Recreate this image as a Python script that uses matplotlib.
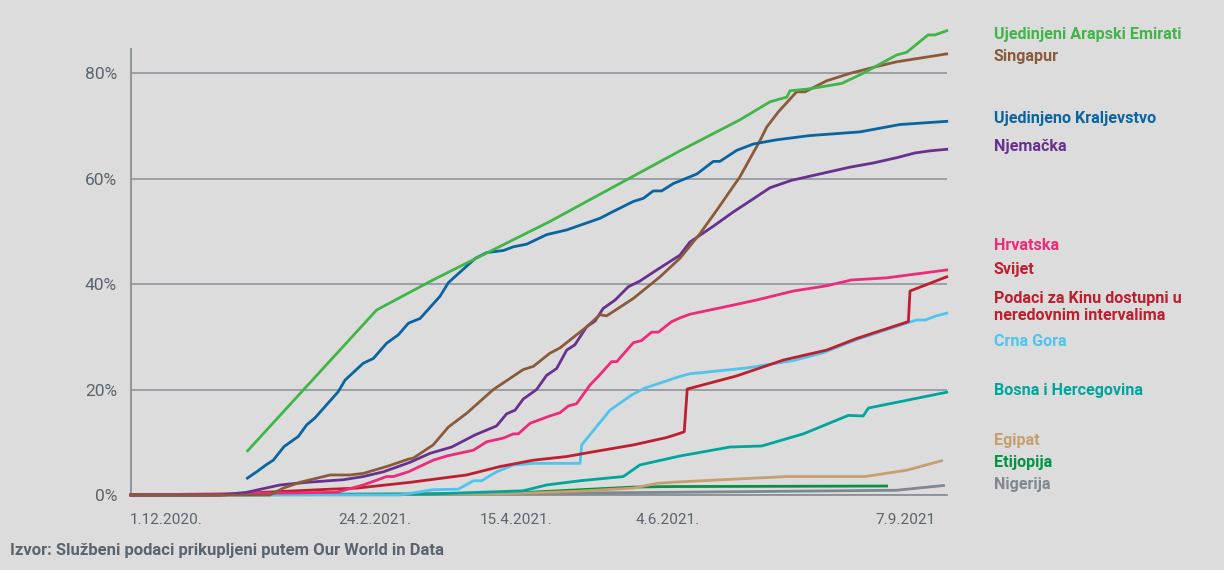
import matplotlib.pyplot as plt

# x values are day-index units along the chart (0 = 1.12.2020.), y values in %
uae_x = [42.9, 90.3, 111.0, 125.7, 154.0, 201.8, 223.9, 234.9, 241.1, 242.3, 248.4, 254.4, 261.3,
         269.1, 281.5, 285.2, 293.0, 295.6, 299.9]
uae_y = [8.4, 35.1, 40.8, 44.6, 51.9, 65.3, 71.2, 74.6, 75.5, 76.7, 77.0, 77.5, 78.1,
         80.0, 83.5, 84.0, 87.3, 87.3, 88.1]

sin_x = [0, 51.1, 56.0, 62.1, 73.2, 80.5, 85.4, 94.0, 102.0, 103.8, 111.1, 116.7, 123.4, 133.2, 144.2,
         147.9, 154.0, 157.7, 167.5, 172.4, 174.9, 184.7, 194.5, 201.8, 209.2, 215.3, 223.9, 231.3,
         233.7, 238.0, 244.7, 247.8, 255.8, 264.3, 274.1, 281.5, 299.9]
sin_y = [0, 0, 1.3, 2.4, 3.8, 3.8, 4.1, 5.4, 6.8, 7.0, 9.5, 12.9, 15.5, 20.0, 23.8,
         24.4, 26.9, 27.9, 31.9, 34.2, 34.0, 37.3, 41.4, 44.9, 49.6, 54.0, 60.4, 67.3,
         69.8, 72.7, 76.5, 76.5, 78.6, 80.0, 81.3, 82.2, 83.7]

uk_x = [42.8, 46.2, 49.9, 52.3, 56.3, 61.5, 64.6, 67.6, 76.2, 78.7, 85.4, 89.1, 94.0, 98.3, 102.0,
        106.3, 113.6, 116.7, 126.6, 130.8, 137.0, 140.6, 145.5, 152.8, 160.2, 172.4, 177.3, 184.7,
        188.4, 192.0, 195.1, 199.4, 208.0, 214.1, 216.5, 222.7, 228.8, 237.4, 249.6, 268.0, 282.7, 299.9]
uk_y = [3.2, 4.4, 5.8, 6.6, 9.2, 11.1, 13.3, 14.6, 19.6, 21.8, 25.0, 25.9, 28.8, 30.4, 32.6,
        33.5, 37.7, 40.3, 44.9, 46.0, 46.4, 47.1, 47.6, 49.4, 50.3, 52.5, 53.8, 55.7,
        56.3, 57.7, 57.7, 59.1, 60.9, 63.3, 63.3, 65.4, 66.6, 67.4, 68.2, 68.9, 70.3, 70.9]

ger_x = [0, 32.7, 42.5, 54.8, 64.6, 78.1, 85.4, 92.8, 102.6, 109.9, 117.9, 126.5, 134.4, 138.1, 141.2,
         144.2, 149.1, 152.8, 156.5, 160.2, 163.2, 167.5, 170.6, 173.6, 178.0, 182.8, 187.1, 193.3,
         201.8, 205.5, 214.1, 221.4, 228.8, 234.9, 242.8, 264.3, 272.9, 281.5, 288.2, 293.7, 299.9]
ger_y = [0, 0, 0.5, 1.9, 2.4, 2.9, 3.5, 4.4, 6.2, 7.9, 9.1, 11.4, 13.1, 15.4, 16.1,
         18.2, 20.0, 22.7, 24.0, 27.5, 28.5, 31.9, 33.0, 35.4, 37.0, 39.5, 40.6, 42.7,
         45.5, 48.0, 51.0, 53.7, 56.2, 58.3, 59.7, 62.2, 63.0, 64.0, 64.9, 65.3, 65.6]

cro_x = [0, 75.6, 85.4, 94.0, 96.5, 102.0, 111.1, 116.1, 125.9, 130.8, 136.9, 140.6, 142.4, 146.7,
         154.0, 157.7, 160.8, 163.8, 168.8, 171.8, 176.7, 178.6, 184.7, 187.7, 191.4, 193.9, 198.8,
         201.8, 205.5, 220.2, 230.0, 243.5, 255.8, 264.9, 277.8, 299.9]
cro_y = [0, 0.5, 1.9, 3.5, 3.5, 4.4, 6.6, 7.4, 8.5, 10.1, 10.8, 11.6, 11.6, 13.6,
         15.0, 15.6, 16.9, 17.3, 20.9, 22.5, 25.3, 25.3, 28.9, 29.3, 30.9, 30.9, 32.9,
         33.6, 34.3, 35.9, 37.0, 38.7, 39.7, 40.8, 41.2, 42.7]

world_x = [0, 33.9, 48.6, 60.9, 73.2, 83.0, 102.6, 123.4, 135.7, 147.9, 160.2, 170.0, 184.7, 196.9,
           201.8, 203.4, 204.5, 222.7, 239.8, 255.8, 266.8, 285.8, 286.4, 299.9]
world_y = [0, 0, 0.5, 0.8, 1.1, 1.3, 2.4, 3.8, 5.4, 6.6, 7.3, 8.2, 9.5, 10.9,
           11.7, 12.0, 20.1, 22.6, 25.6, 27.5, 29.7, 32.9, 38.7, 41.4]

mne_x = [0, 98.9, 111.1, 120.3, 125.9, 128.9, 134.4, 140.6, 147.9, 165.1, 165.7, 171.2, 176.1, 184.1,
         189.0, 201.8, 205.5, 226.3, 243.5, 254.5, 266.8, 283.9, 288.8, 291.9, 296.2, 299.9]
mne_y = [0, 0, 1.0, 1.1, 2.7, 2.7, 4.4, 5.7, 6.0, 6.0, 9.5, 13.0, 16.1, 19.0,
         20.3, 22.5, 23.0, 24.1, 25.5, 27.0, 29.5, 32.4, 33.2, 33.2, 34.0, 34.5]

bih_x = [0, 111.1, 144.2, 152.8, 165.1, 181.0, 187.1, 201.8, 220.2, 231.9, 247.2, 263.7, 269.2, 271.1, 299.9]
bih_y = [0, 0.2, 0.8, 1.9, 2.7, 3.5, 5.7, 7.4, 9.1, 9.3, 11.6, 15.1, 15.0, 16.5, 19.5]

egy_x = [0, 135.7, 163.8, 184.7, 193.3, 201.8, 241.1, 269.9, 285.2, 298.0]
egy_y = [0, 0.2, 0.7, 1.3, 2.2, 2.5, 3.5, 3.5, 4.7, 6.5]

eth_x = [0, 100.0, 145.5, 184.7, 198.2, 277.8]
eth_y = [0, 0.1, 0.5, 1.5, 1.6, 1.7]

nga_x = [0, 110.0, 198.2, 281.5, 298.7]
nga_y = [0, 0.2, 0.5, 0.9, 1.8]

tick_pos = [12.9, 89.7, 141.5, 197.4, 284.6]
tick_labels = ["1.12.2020.", "24.2.2021.", "15.4.2021.", "4.6.2021.", "7.9.2021"]

label_names = ["Ujedinjeni Arapski Emirati", "Singapur", "Ujedinjeno Kraljevstvo", "Njemačka", "Hrvatska",
               "Svijet", "Podaci za Kinu dostupni u\nneredovnim intervalima", "Crna Gora",
               "Bosna i Hercegovina", "Egipat", "Etijopija", "Nigerija"]

BG = "#dcdcdc"
GRID = "#8a9098"
TXT = "#5a6470"

plt.rcParams["font.family"] = ["Roboto", "DejaVu Sans"]

fig = plt.figure(figsize=(12.24, 5.7), dpi=100, facecolor=BG)
ax = fig.add_axes([0.107, 0.1316, 0.6667, 0.7831], facecolor=BG)

series = [
    (nga_x, nga_y, "#7f8891"),
    (eth_x, eth_y, "#009444"),
    (egy_x, egy_y, "#c79f6f"),
    (bih_x, bih_y, "#00a69c"),
    (mne_x, mne_y, "#4fc4ec"),
    (world_x, world_y, "#be1e2d"),
    (cro_x, cro_y, "#ee2a7b"),
    (ger_x, ger_y, "#68318f"),
    (sin_x, sin_y, "#8a5a3a"),
    (uk_x, uk_y, "#0a64a0"),
    (uae_x, uae_y, "#40b548"),
]
for xs, ys, c in series:
    ax.plot(xs, ys, color=c, lw=2.0, clip_on=False, solid_joinstyle="round", zorder=3)

ax.set_xlim(0, 300)
ax.set_ylim(0, 84.7)
ax.set_yticks([0, 20, 40, 60, 80])
ax.set_yticklabels(["0%", "20%", "40%", "60%", "80%"])
ax.set_xticks(tick_pos)
ax.set_xticklabels(tick_labels)
ax.tick_params(axis="both", length=0, colors=TXT)
ax.tick_params(axis="y", pad=10, labelsize=12.5)
ax.tick_params(axis="x", pad=13, labelsize=11)
ax.grid(axis="y", color=GRID, lw=1.1, zorder=1)
for s in ["top", "right"]:
    ax.spines[s].set_visible(False)
for s in ["left", "bottom"]:
    ax.spines[s].set_color(GRID)
    ax.spines[s].set_linewidth(1.3)

label_colors = ["#40b548", "#8a5a3a", "#0a64a0", "#68318f", "#ee2a7b", "#be1e2d", "#be1e2d",
                "#4fc4ec", "#00a69c", "#c79f6f", "#009444", "#7f8891"]
label_y = [34, 56, 119, 147, 246, 270, 307, 341, 391, 441, 462, 484]
for name, c, py in zip(label_names, label_colors, label_y):
    fig.text(994 / 1224, 1 - py / 570, name, color=c, fontsize=11.6, fontweight="bold",
             va="center", ha="left", linespacing=1.2)

fig.text(10 / 1224, 1 - 551 / 570, "Izvor: Službeni podaci prikupljeni putem Our World in Data",
         color=TXT, fontsize=12, fontweight="bold", va="center", ha="left")

fig.savefig("out.png", dpi=100, facecolor=BG)
